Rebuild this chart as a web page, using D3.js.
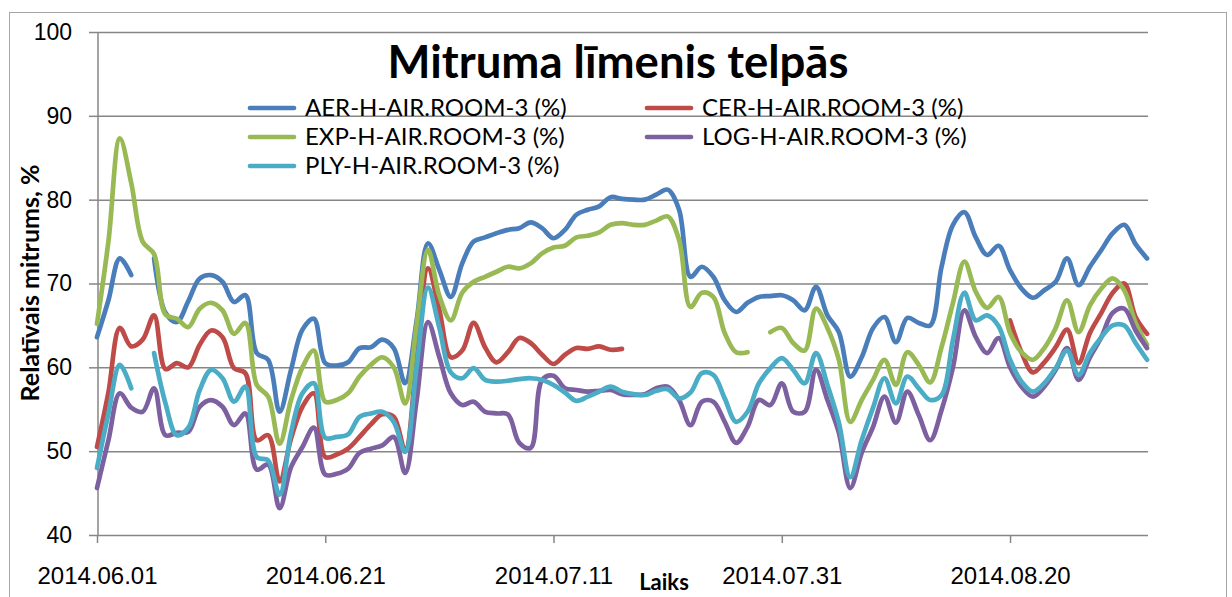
<!DOCTYPE html>
<html>
<head>
<meta charset="utf-8">
<script src="https://cdnjs.cloudflare.com/ajax/libs/d3/7.8.5/d3.min.js"></script>
<style>
  body { margin: 0; background: #fff; }
  svg { display: block; font-family: Lato, "Liberation Sans", sans-serif; }
</style>
</head>
<body>
<svg id="chart"></svg>
<script>
// daily readings, 2014.06.01 .. 2014.09.01 (null = no data)
const startDate = new Date(2014, 5, 1),
  endDate = new Date(2014, 8, 2);
const days = d3.timeDay.range(startDate, endDate);

const aer = [63.6,68,73,71,null,73,66.5,65.4,67.9,70.6,71,70.2,67.8,68.6,61.7,60.9,54.7,59.7,64.5,65.8,
  60.5,60.2,60.6,62.3,62.4,63.3,62.3,58.1,65.5,74.8,71.6,68.4,72.4,75,75.5,76,76.4,76.6,77.3,76.6,
  75.4,76.4,78.2,78.8,79.2,80.3,80.1,80,80,80.6,81.2,78.8,70.8,72,70.8,68,66.6,67.7,68.4,68.5,
  68.6,68,66.8,69.6,66.2,64.2,58.9,61.2,64.7,66,63,65.9,65.3,65,72,77,78.5,75.5,73.4,74.5,
  71.6,69.4,68.3,69.2,70.2,73,69.8,72,74,76,77,74.7,73];
const cer = [50.5,57,64.7,62.5,63.3,66.2,59.8,60.5,60,62.7,64.4,63.6,59.9,59.3,51.3,51.9,46.4,51.5,55.3,56.9,
  49.3,49.6,50.3,51.7,53.2,54.4,54.1,50.1,61,71.8,66.8,61.2,62,65.3,62.4,60.6,61.8,63.5,62.9,61.5,
  60.4,61.5,62.3,62.2,62.5,62.1,62.2,null,null,null,null,null,null,null,null,null,null,null,null,null,
  null,null,null,null,null,null,null,null,null,null,null,null,null,null,null,null,null,null,null,null,
  65.6,61.8,59.4,60.6,62.4,64.5,60.5,64.1,66.5,68.9,70,66,64];
const exp = [65.2,75,87.3,82,75,73.5,66.3,65.8,64.8,67,67.7,66.8,64,65.3,57.9,56.5,50.9,56.1,60,62,
  55.9,56.1,56.9,58.9,60.3,61.2,60,55.7,65,74,68.5,65.6,68.9,70.2,70.8,71.4,72,71.8,72.4,73.6,
  74.3,74.5,75.5,75.7,76.1,77,77.2,77,77,77.5,78,75.2,67.2,68.9,68.4,64.1,61.8,61.8,null,64.2,
  64.7,62.9,62,67,64.7,60.9,53.5,56.1,58.5,60.9,57.9,61.8,60.3,58.2,62.4,67.7,72.6,69,67.1,68.4,
  64.1,61.8,60.9,62.3,64.7,68,64.2,67.4,69.4,70.6,69.2,65.3,62.7];
const log = [45.6,51.3,56.9,55.2,54.7,57.5,51.9,52.2,52.3,55.3,56.1,55.3,53.1,54.5,47.8,48.4,43.2,48.1,50.5,52.8,
  47.2,47.3,47.9,49.8,50.3,50.7,51.7,47.4,56,65.4,61.2,56.9,55.5,55.9,54.7,54.5,54.4,51,50.4,58.5,
  59,57.5,57.3,57.1,57.2,57.3,56.8,56.7,56.8,57.5,57.7,56.1,53.1,55.9,55.9,53.5,51,52.9,56.1,55.5,
  58.1,54.7,54.7,59.7,56.1,52.2,45.6,49.8,52.9,56.5,53.4,57.1,54.3,51.3,54.9,60,66.8,63.6,61.7,63.5,
  60,57.7,56.5,57.7,59.7,62.3,58.5,61.2,63.6,66.5,67,64.4,62.3];
const ply = [48,54.5,60.3,57.5,null,61.7,55.7,51.9,52.8,57.3,59.7,58.7,55.9,57.7,49.3,48.9,44.8,52.2,56.9,58.1,
  51.6,51.7,52,54.1,54.5,54.7,53.5,49.9,60,69.5,64.7,59.4,58.7,59.9,58.5,58.3,58.4,58.6,58.7,58.5,
  57.9,57,56,56.5,57.1,57.7,57.1,56.8,56.7,57.2,57.4,56.3,57,59.3,59.1,56.3,53.5,54.7,58.1,59.9,
  61.1,59.7,58.1,61.7,57.9,53.4,46.9,51.3,55.2,58.7,55.7,58.9,57.5,56.1,56.7,63.3,68.9,65.6,66.2,64.9,
  60.9,58.3,57.1,58.1,59.9,62,59.1,61.7,63.6,65,65,62.9,60.9];

const seriesNames = ['AER-H-AIR.ROOM-3 (%)', 'CER-H-AIR.ROOM-3 (%)', 'EXP-H-AIR.ROOM-3 (%)',
  'LOG-H-AIR.ROOM-3 (%)', 'PLY-H-AIR.ROOM-3 (%)'];
const seriesValues = [aer, cer, exp, log, ply];
const colors = ['#4a7ebb', '#be4b48', '#98b954', '#7d60a0', '#4bacc6'];
const xTicks = ['2014.06.01', '2014.06.21', '2014.07.11', '2014.07.31', '2014.08.20'];
const yTicks = [40, 50, 60, 70, 80, 90, 100];

const width = 1232, height = 597;
const plot = {left: 97, right: 1147, top: 32, bottom: 535};
const grey = '#868686';

const svg = d3.select('#chart')
  .attr('width', width)
  .attr('height', height);

svg.append('rect')
  .attr('x', 9.5).attr('y', 12.5)
  .attr('width', 1217).attr('height', 600)
  .attr('fill', '#fff')
  .attr('stroke', '#a6a6a6');

const parse = d3.timeParse('%Y.%m.%d');
const x = d3.scaleTime()
  .domain([startDate, new Date(2014, 8, 1)])
  .range([plot.left, plot.right]);
const y = d3.scaleLinear()
  .domain([40, 100])
  .range([plot.bottom, plot.top]);

// gridlines + y axis
const yAxis = svg.append('g')
  .attr('transform', `translate(${plot.left},0)`)
  .call(d3.axisLeft(y).tickValues(yTicks).tickSize(8).tickPadding(17));
yAxis.select('.domain').remove();
yAxis.selectAll('line').attr('stroke', grey).attr('stroke-width', 1.5);
yAxis.selectAll('text').attr('font-size', 23).attr('fill', '#000');
yAxis.selectAll('.tick').append('line')
  .attr('x1', 0).attr('x2', plot.right - plot.left + 1)
  .attr('stroke', grey).attr('stroke-width', 1.5);

svg.append('line')
  .attr('x1', plot.left + 1).attr('x2', plot.left + 1)
  .attr('y1', plot.top).attr('y2', plot.bottom)
  .attr('stroke', grey).attr('stroke-width', 1.5);

// x axis
const xAxis = svg.append('g')
  .attr('transform', `translate(0,${plot.bottom})`)
  .call(d3.axisBottom(x)
    .tickValues(xTicks.map(parse))
    .tickFormat(d3.timeFormat('%Y.%m.%d'))
    .tickSize(8)
    .tickPadding(24));
xAxis.select('.domain').remove();
xAxis.selectAll('line').attr('stroke', grey).attr('stroke-width', 1.5);
xAxis.selectAll('text').attr('font-size', 24).attr('fill', '#000');

// lines
const line = d3.line()
  .defined(d => d.v != null)
  .x(d => x(d.date))
  .y(d => y(d.v))
  .curve(d3.curveCatmullRom.alpha(0.5));

seriesValues.forEach((vals, i) => {
  const pts = days.map((date, j) => ({date: date, v: vals[j]}));
  svg.append('path')
    .datum(pts)
    .attr('fill', 'none')
    .attr('stroke', colors[i])
    .attr('stroke-width', 4.7)
    .attr('stroke-linecap', 'round')
    .attr('stroke-linejoin', 'round')
    .attr('d', line);
});

// title
svg.append('text')
  .attr('x', 618).attr('y', 78)
  .attr('text-anchor', 'middle')
  .attr('font-size', 45.5)
  .attr('font-weight', 'bold')
  .text('Mitruma līmenis telpās');

// legend
const legendPos = [[250, 108], [647, 108], [250, 137], [647, 137], [250, 166]];
seriesNames.forEach((name, i) => {
  const g = svg.append('g')
    .attr('transform', `translate(${legendPos[i][0]},${legendPos[i][1]})`);
  g.append('line')
    .attr('x1', 0).attr('x2', 44)
    .attr('stroke', colors[i])
    .attr('stroke-width', 4.7)
    .attr('stroke-linecap', 'round');
  g.append('text')
    .attr('x', 55).attr('dy', '0.35em')
    .attr('font-size', 24)
    .text(name);
});

// axis titles
svg.append('text')
  .attr('transform', 'translate(39,283) rotate(-90)')
  .attr('text-anchor', 'middle')
  .attr('font-size', 25)
  .attr('font-weight', 'bold')
  .text('Relatīvais mitrums, %');

svg.append('text')
  .attr('x', 664).attr('y', 590)
  .attr('text-anchor', 'middle')
  .attr('font-size', 22)
  .attr('font-weight', 'bold')
  .text('Laiks');
</script>
</body>
</html>
